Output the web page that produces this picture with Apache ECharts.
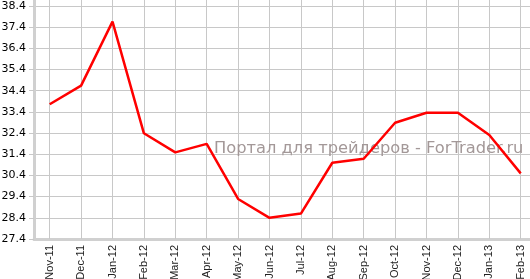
<!DOCTYPE html>
<html>
<head>
<meta charset="utf-8">
<script src="https://cdn.jsdelivr.net/npm/echarts@6/dist/echarts.min.js"></script>
<style>html,body{margin:0;padding:0;background:#fff}#c{width:530px;height:279px}</style>
</head>
<body>
<div id="c"></div>
<script>
var categories = ['Nov-11','Dec-11','Jan-12','Feb-12','Mar-12','Apr-12','May-12','Jun-12','Jul-12','Aug-12','Sep-12','Oct-12','Nov-12','Dec-12','Jan-13','Feb-13'];
var values = [33.76, 34.64, 37.66, 32.39, 31.49, 31.89, 29.29, 28.40, 28.60, 31.00, 31.19, 32.89, 33.36, 33.36, 32.31, 30.50];
var yTickLabels = ['27.4','28.4','29.4','30.4','31.4','32.4','33.4','34.4','35.4','36.4','37.4','38.4'];
var yBase = 27.4;
var watermark = 'Портал для трейдеров - ForTrader.ru';

var chart = echarts.init(document.getElementById('c'), null, {renderer: 'canvas'});
var gridH = 239;
var splitColors = [];
for (var i = 0; i < yTickLabels.length; i++) splitColors.push('#c8c8c8');
splitColors.push('rgba(0,0,0,0)');
var tickVals = yTickLabels.map(function (s, i) { return i; });

chart.setOption({
  animation: false,
  grid: {left: 34, top: 0, width: 502.4, height: gridH, containLabel: false, outerBoundsMode: 'none'},
  graphic: [{
    type: 'text', left: 214, top: 141, z: 1, silent: true,
    style: {text: watermark, fill: '#a39898', font: '16.3px "DejaVu Sans"'}
  }],
  xAxis: {
    type: 'category', data: categories, boundaryGap: true,
    axisLine: {show: true, lineStyle: {color: '#d0d0d0', width: 3}},
    axisTick: {show: true, alignWithLabel: true, inside: true, length: gridH, lineStyle: {color: '#c8c8c8', width: 1}},
    splitLine: {show: false},
    axisLabel: {rotate: 90, margin: 6, color: '#222', fontFamily: '"Liberation Sans", Arial', fontSize: 11, interval: 0}
  },
  yAxis: {
    type: 'value', min: 0, max: 11 * gridH / 233, interval: 1,
    axisLine: {show: true, lineStyle: {color: '#d0d0d0', width: 3}},
    axisTick: {show: true, length: 5, lineStyle: {color: '#c8c8c8'}, customValues: tickVals},
    splitLine: {show: true, lineStyle: {color: splitColors, width: 1}},
    axisLabel: {
      margin: 8, color: '#000', fontFamily: '"DejaVu Sans", Verdana', fontSize: 11,
      customValues: tickVals,
      formatter: function (v) {
        var i = Math.round(v);
        return Math.abs(v - i) < 1e-6 && yTickLabels[i] ? yTickLabels[i] : '';
      }
    }
  },
  series: [{
    type: 'line', z: 3,
    data: values.map(function (v) { return +(v - yBase).toFixed(4); }),
    showSymbol: false, symbol: 'none', smooth: false,
    lineStyle: {color: '#ff0000', width: 2.5}
  }]
});
</script>
</body>
</html>
